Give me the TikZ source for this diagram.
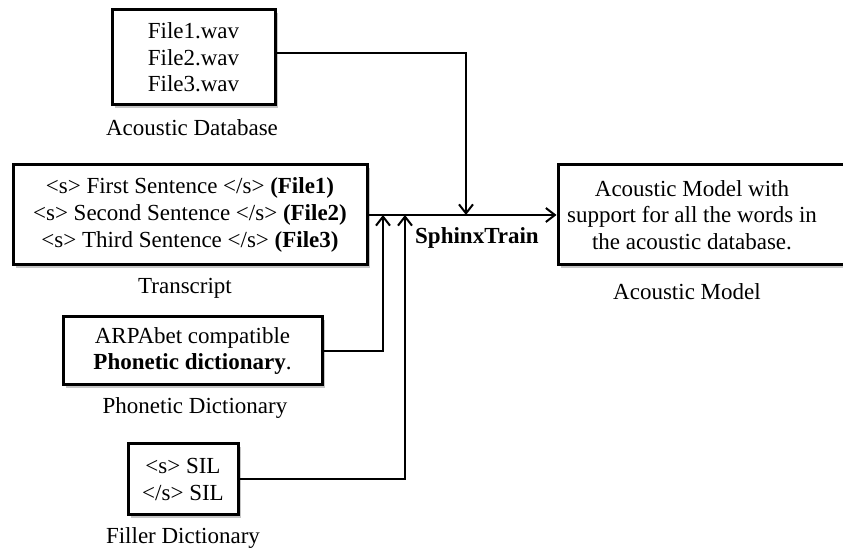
\documentclass[tikz,border=0pt]{standalone}
\usepackage{fontspec}
\setmainfont{Liberation Serif}
\usetikzlibrary{arrows.meta,shadows}
\begin{document}
\begin{tikzpicture}[x=0.5pt,y=-0.5pt,
  font=\fontsize{11.5}{13.3}\selectfont,
  box/.style={draw=black, line width=1.5pt, fill=white, align=center, inner sep=0pt,
    drop shadow={shadow xshift=1.3pt, shadow yshift=-1.3pt, opacity=0.45, fill=gray}},
  caption/.style={inner sep=0pt, align=center},
  conn/.style={line width=1pt},
  arr/.style={conn, -{Straight Barb[length=4.5pt,width=7pt,line width=1pt]}}]
\useasboundingbox (0,0) rectangle (843,551);
% boxes
\node[box, minimum width=81.5pt, minimum height=47.5pt] (db) at (193.5,57.5)
  {File1.wav\\File2.wav\\File3.wav};
\node[box, minimum width=177pt, minimum height=50pt] (tr) at (190,215)
  {<s> First Sentence </s> \textbf{(File1)}\\<s> Second Sentence </s> \textbf{(File2)}\\<s> Third Sentence </s> \textbf{(File3)}};
\node[box, minimum width=146pt, minimum height=50pt] (am) at (704,215) {};
\node[caption] (amt) at (692,215)
  {Acoustic Model with\\support for all the words in\\the acoustic database.};
\node[box, minimum width=129.5pt, minimum height=34pt] (ph) at (192.5,351)
  {ARPAbet compatible\\\textbf{Phonetic dictionary}.};
\node[box, minimum width=55pt, minimum height=35.5pt] (fi) at (183,479.5)
  {<s> SIL\\</s> SIL};
% captions
\node[caption] (dbl) at (192,128) {Acoustic Database};
\node[caption] (trl) at (185,288) {Transcript};
\node[caption] (aml) at (687,292) {Acoustic Model};
\node[caption] (phl) at (195,408) {Phonetic Dictionary};
\node[caption] (fil) at (183,538) {Filler Dictionary};
\node[caption] (st) at (477,238) {\textbf{SphinxTrain}};
% junctions
\coordinate (j1) at (466,53);
\coordinate (jd) at (466,215);
\coordinate (ju1) at (383,215);
\coordinate (ju2) at (405,215);
% connectors
\draw[arr] (db.east|-j1) -- (j1) -- (jd);
\draw[arr] (tr.east) -- (am.west);
\draw[arr] (ph.east) -| (ju1);
\draw[arr] (fi.east) -| (ju2);
\end{tikzpicture}
\end{document}
